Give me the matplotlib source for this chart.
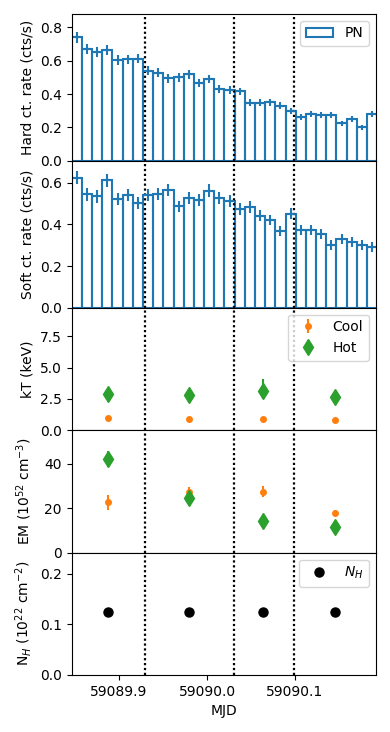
import numpy as np
import matplotlib
matplotlib.use("Agg")
import matplotlib.pyplot as plt

# ---------------- data ----------------
bin_start_mjd = 59089.8462
bin_width_s = 1000.0

hard_rate = [0.740, 0.670, 0.654, 0.666, 0.604, 0.608, 0.612, 0.540, 0.528, 0.494,
             0.500, 0.518, 0.464, 0.490, 0.432, 0.424, 0.416, 0.348, 0.348, 0.352,
             0.330, 0.298, 0.264, 0.280, 0.274, 0.274, 0.224, 0.252, 0.200, 0.280]
hard_err = [0.035, 0.030, 0.030, 0.030, 0.028, 0.028, 0.028, 0.027, 0.026, 0.025,
            0.025, 0.025, 0.024, 0.025, 0.023, 0.023, 0.023, 0.021, 0.021, 0.021,
            0.020, 0.019, 0.018, 0.019, 0.018, 0.018, 0.017, 0.018, 0.016, 0.019]

soft_rate = [0.624, 0.544, 0.534, 0.611, 0.520, 0.541, 0.504, 0.541, 0.546, 0.565,
             0.486, 0.528, 0.517, 0.562, 0.525, 0.512, 0.474, 0.485, 0.442, 0.421,
             0.368, 0.451, 0.373, 0.373, 0.352, 0.301, 0.330, 0.317, 0.301, 0.293]
soft_err = [0.032, 0.030, 0.030, 0.031, 0.029, 0.030, 0.029, 0.030, 0.030, 0.030,
            0.028, 0.029, 0.029, 0.030, 0.029, 0.029, 0.028, 0.028, 0.027, 0.026,
            0.025, 0.027, 0.025, 0.025, 0.024, 0.023, 0.024, 0.023, 0.023, 0.023]

divider_mjd = [59089.930, 59090.031, 59090.099]

spec_mjd = [59089.888, 59089.980, 59090.064, 59090.145]
kT_cool = [0.94, 0.88, 0.86, 0.80]
kT_cool_err = [0.05, 0.05, 0.05, 0.05]
kT_hot = [2.92, 2.81, 3.14, 2.63]
kT_hot_err_lo = [0.40, 0.35, 0.64, 0.35]
kT_hot_err_hi = [0.40, 0.35, 0.96, 0.35]

EM_cool = [22.6, 27.4, 27.4, 18.0]
EM_cool_err = [3.3, 2.0, 2.5, 1.2]
EM_hot = [42.1, 24.5, 14.3, 11.7]
EM_hot_err = [3.5, 2.5, 2.5, 2.5]

NH = [0.125, 0.125, 0.125, 0.125]

xticks = [59089.9, 59090.0, 59090.1]

# ---------------- figure ----------------
fig = plt.figure(figsize=(3.9, 7.32), dpi=100)
gs = fig.add_gridspec(5, 1, height_ratios=[1.2, 1.2, 1, 1, 1], hspace=0,
                      left=0.1838, right=0.9633, top=0.9809, bottom=0.0779)
axes = [fig.add_subplot(gs[0])]
for i in range(1, 5):
    axes.append(fig.add_subplot(gs[i], sharex=axes[0]))

nb = len(hard_rate)
dt = bin_width_s / 86400.0
edges = bin_start_mjd + dt * np.arange(nb + 1)
centers = 0.5 * (edges[:-1] + edges[1:])

# Hard
ax = axes[0]
ax.hist(centers, bins=edges, weights=hard_rate, histtype='bar', fill=False,
        edgecolor='C0', linewidth=1.5, label='PN')
ax.errorbar(centers, hard_rate, yerr=hard_err, fmt='_', color='C0', ms=6,
            mew=1.5, elinewidth=1.5)
ax.set_ylim(0, 0.88)
ax.set_yticks([0.0, 0.2, 0.4, 0.6, 0.8])
ax.set_ylabel('Hard ct. rate (cts/s)')
ax.legend(loc='upper right')

# Soft
ax = axes[1]
ax.hist(centers, bins=edges, weights=soft_rate, histtype='bar', fill=False,
        edgecolor='C0', linewidth=1.5)
ax.errorbar(centers, soft_rate, yerr=soft_err, fmt='_', color='C0', ms=6,
            mew=1.5, elinewidth=1.5)
ax.set_ylim(0, 0.705)
ax.set_yticks([0.0, 0.2, 0.4, 0.6])
ax.set_ylabel('Soft ct. rate (cts/s)')

# kT
ax = axes[2]
ax.errorbar(spec_mjd, kT_cool, yerr=kT_cool_err, fmt='o', color='C1', ms=4,
            label='Cool')
ax.errorbar(spec_mjd, kT_hot, yerr=[kT_hot_err_lo, kT_hot_err_hi], fmt='d',
            color='C2', ms=8, label='Hot')
ax.set_ylim(0, 9.8)
ax.set_yticks([0.0, 2.5, 5.0, 7.5])
ax.set_ylabel('kT (keV)')
ax.legend(loc='upper right')

# EM
ax = axes[3]
ax.errorbar(spec_mjd, EM_cool, yerr=EM_cool_err, fmt='o', color='C1', ms=4)
ax.errorbar(spec_mjd, EM_hot, yerr=EM_hot_err, fmt='d', color='C2', ms=8)
ax.set_ylim(0, 55)
ax.set_yticks([0, 20, 40])
ax.set_ylabel('EM (10$^{52}$ cm$^{-3}$)')

# NH
ax = axes[4]
ax.plot(spec_mjd, NH, 'o', color='black', ms=6.5, label='$N_H$')
ax.set_ylim(0, 0.242)
ax.set_yticks([0.0, 0.1, 0.2])
ax.set_ylabel('N$_H$ (10$^{22}$ cm$^{-2}$)')
ax.legend(loc='upper right')
ax.set_xlabel('MJD')

for ax in axes:
    for d in divider_mjd:
        ax.axvline(d, color='black', linestyle=(0, (1, 1.2)), linewidth=1.6)

axes[0].set_xlim(59089.8462, 59090.1917)
axes[0].set_xticks(xticks)
axes[4].xaxis.get_major_formatter().set_useOffset(False)
for ax in axes[:-1]:
    ax.tick_params(labelbottom=False)

fig.align_ylabels(axes)
fig.savefig('out.png', dpi=100)
